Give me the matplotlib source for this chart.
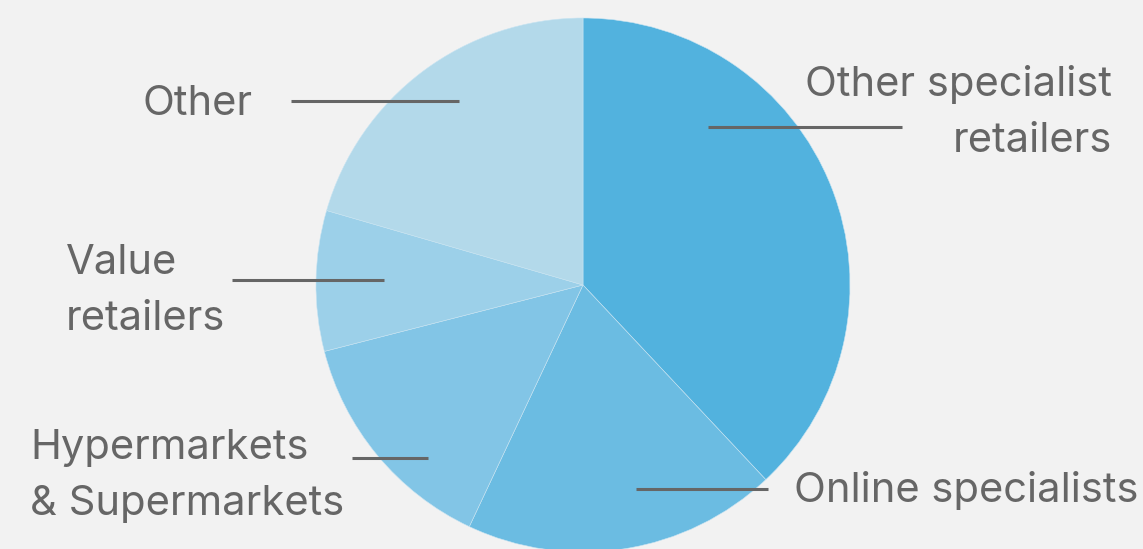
import matplotlib.pyplot as plt

# Share of sales by retail channel
channels = [
    "Other specialist\nretailers",
    "Online specialists",
    "Hypermarkets\n& Supermarkets",
    "Value\nretailers",
    "Other",
]
shares = [38.0, 19.0, 14.0, 8.5, 20.5]
colors = ["#52b2de", "#6bbce2", "#82c5e6", "#9cd0e9", "#b3d9ea"]

# label anchor (x, y, ha) and leader line (x0, x1, y), in pixel space
label_pos = [
    (1112, 113, "right"),
    (794, 491, "left"),
    (30, 476, "left"),
    (66, 291, "left"),
    (253, 104, "right"),
]
leaders = [
    (708, 902, 127),
    (636, 768, 489),
    (352, 428, 458),
    (232, 384, 280),
    (291, 459, 101),
]

W, H = 1143, 549
bg = "#f2f2f2"
text_color = "#666666"

plt.rcParams["font.family"] = ["Inter", "DejaVu Sans"]

fig = plt.figure(figsize=(W / 100, H / 100), dpi=100, facecolor=bg)
ax = fig.add_axes([0, 0, 1, 1])
ax.set_facecolor(bg)

# y axis is flipped below, so start at -90 to begin at the top and run clockwise
ax.pie(
    shares,
    colors=colors,
    startangle=-90,
    counterclock=True,
    center=(583, 285),
    radius=267,
    wedgeprops={"linewidth": 0.4, "edgecolor": "#c8e4f2"},
    frame=True,
)
ax.set_xlim(0, W)
ax.set_ylim(H, 0)
ax.set_aspect("equal")
ax.axis("off")

for name, (x, y, ha), (x0, x1, ly) in zip(channels, label_pos, leaders):
    ax.plot([x0, x1], [ly, ly], color=text_color, lw=2.2, solid_capstyle="butt")
    ax.text(x, y, name, ha=ha, va="center", fontsize=30, color=text_color,
            linespacing=1.6, multialignment=ha)

fig.savefig("out.png", dpi=100, facecolor=bg)
